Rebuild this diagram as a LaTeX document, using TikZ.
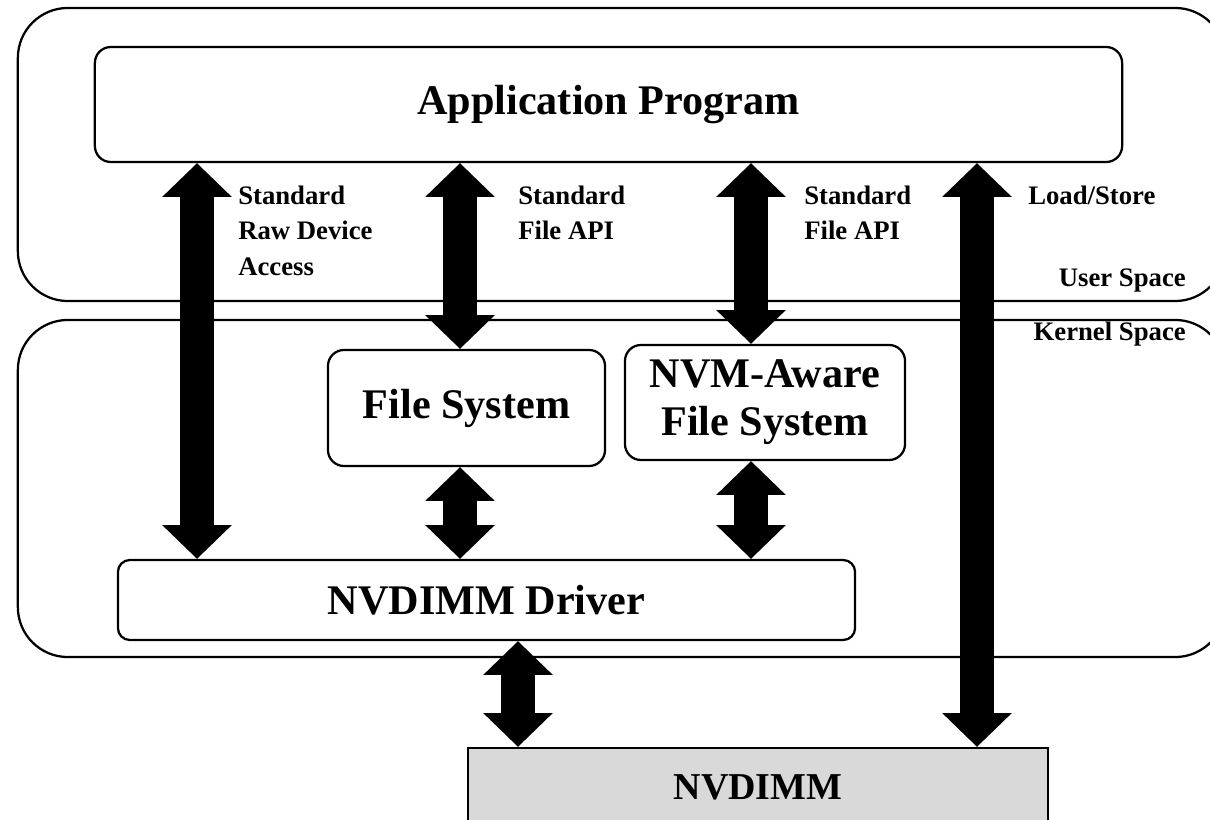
\documentclass[tikz,border=0pt]{standalone}
\usepackage{fontspec}
\setmainfont{Liberation Serif}
\usepackage{xcolor}
\usepackage{tikz}
\usetikzlibrary{arrows.meta, positioning}

\definecolor{memgray}{HTML}{D9D9D9}

\begin{document}
\begin{tikzpicture}[x=0.025cm, y=-0.025cm]
\tikzstyle{space} = [draw, line width=1.6pt, rounded corners=1.25cm, inner sep=0pt]
\tikzstyle{layer} = [draw, line width=1.6pt, rounded corners=0.4cm, fill=white, inner sep=0pt, align=center, font=\fontsize{30}{34}\selectfont\bfseries]
\tikzstyle{tag} = [inner sep=0pt, align=left, font=\fontsize{19}{25}\selectfont\bfseries]
\tikzstyle{fat} = [line width=24pt, {Triangle[width=48pt,length=24pt]}-{Triangle[width=48pt,length=24pt]}]

\useasboundingbox (0,0) rectangle (1210,820);
\clip (0,0) rectangle (1210,820);

% user / kernel regions
\node (user) [space, minimum width=30.175cm, minimum height=7.325cm] at (621.5,154.5) {};
\node (kernel) [space, minimum width=30.175cm, minimum height=8.425cm] at (621.5,488.5) {};

% software stack
\node (app) [layer, minimum width=25.675cm, minimum height=2.875cm] at (608.5,104.5) {Application Program};
\node (fs) [layer, minimum width=6.925cm, minimum height=2.9cm] at (466.5,408) {File System};
\node (nvm) [layer, minimum width=7cm, minimum height=2.875cm] at (765,402.5) {NVM-Aware\\File System};
\node (drv) [layer, rounded corners=0.3cm, minimum width=18.425cm, minimum height=2cm] at (486.5,600) {NVDIMM Driver};
\node (dimm) [draw, line width=1.6pt, fill=memgray, inner sep=0pt, minimum width=14.5cm, minimum height=1.95cm, font=\fontsize{27}{30}\selectfont\bfseries] at (758,787) {NVDIMM};

% arrow columns
\coordinate (rawx) at (197,0);
\coordinate (fsx) at (460,0);
\coordinate (nvmx) at (751,0);
\coordinate (dimmx) at (518,0);
\coordinate (ldx) at (977,0);

\draw [fat] (app.south -| rawx) -- (drv.north -| rawx);
\draw [fat] (app.south -| fsx) -- (fs.north -| fsx);
\draw [fat] (app.south -| nvmx) -- (nvm.north -| nvmx);
\draw [fat] (app.south -| ldx) -- (dimm.north -| ldx);
\draw [fat] (fs.south -| fsx) -- (drv.north -| fsx);
\draw [fat] (nvm.south -| nvmx) -- (drv.north -| nvmx);
\draw [fat] (drv.south -| dimmx) -- (dimm.north -| dimmx);

% labels
\node (raw) [tag, anchor=north west] at (238,186) {Standard\\Raw Device\\Access};
\node (api1) [tag, anchor=north west] at (518,186) {Standard\\File API};
\node (api2) [tag, anchor=north west] at (804,186) {Standard\\File API};
\node (ldst) [tag, anchor=north west] at (1028,186) {Load/Store};
\node (ulbl) [tag, anchor=base east] at (1186,287) {User Space};
\node (klbl) [tag, anchor=base east] at (1186,340) {Kernel Space};

\end{tikzpicture}
\end{document}
